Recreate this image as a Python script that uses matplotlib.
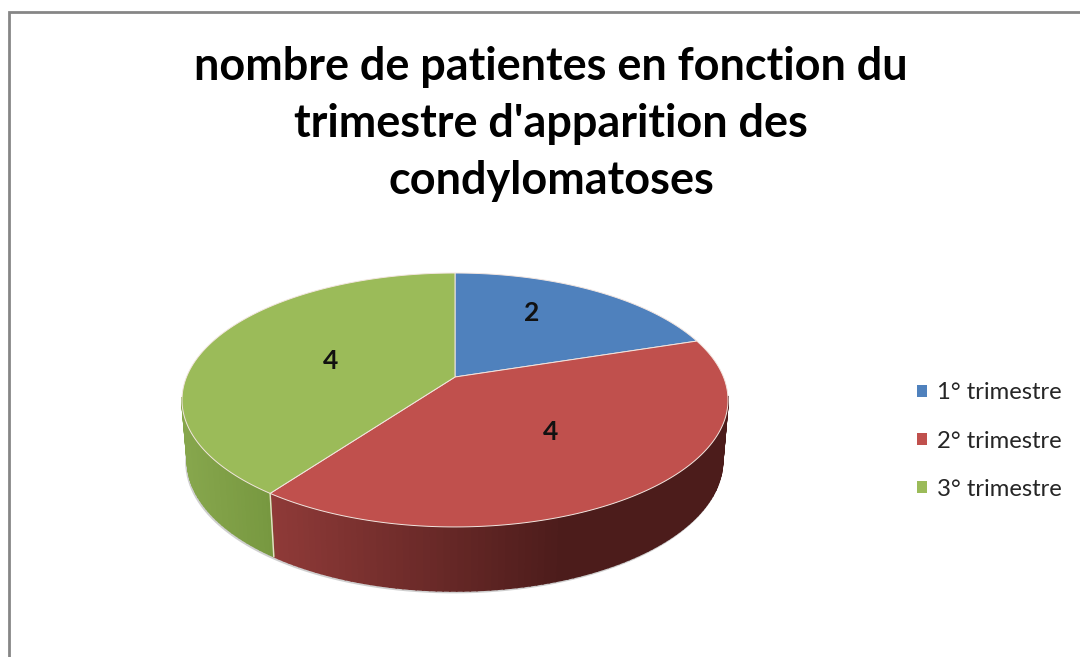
import numpy as np
import matplotlib
matplotlib.use('Agg')
import matplotlib.pyplot as plt
from matplotlib.patches import Patch

# donnees
categories = ['1° trimestre', '2° trimestre', '3° trimestre']
valeurs = [2, 4, 4]
titre = "nombre de patientes en fonction du\ntrimestre d'apparition des\ncondylomatoses"

couleurs = ['#4f81bd', '#c0504d', '#9bbb59']
cote_clair = ['#4f81bd', '#8f3a38', '#86a64c']
cote_sombre = ['#4f81bd', '#4c1c1b', '#76973f']
rayon_label = [0.6, 0.55, 0.5]
decalage_label = [(-10, -9), (1, -4), (0, 2)]

# perspective du disque, en pixels de l'image
CX, CY = 455, 377
A, B, K = 122.8, 268.5, 0.181


def projeter(x, y):
    d = 1 + K * y
    return CX + B * x / d, CY - A * y / d


def point_angle(theta, r=1.0):
    # theta en radians depuis le haut, sens horaire
    return projeter(r * np.sin(theta), r * np.cos(theta))


def bas(X, Y):
    # bord inferieur du cylindre
    rel = (Y - 400) / 127.0
    return CX + (X - CX) * 0.98, Y + 61 + 3 * rel


def melange(c1, c2, t):
    a = np.array(matplotlib.colors.to_rgb(c1))
    b = np.array(matplotlib.colors.to_rgb(c2))
    return tuple(a + (b - a) * t)


fig = plt.figure(figsize=(10.8, 6.57), dpi=100)
ax = fig.add_axes([0, 0, 1, 1])
ax.set_xlim(0, 1080)
ax.set_ylim(657, 0)
ax.axis('off')

# cadre
ax.plot([8.5, 8.5, 1080], [657, 12, 12], color='#868686', lw=2.0, solid_joinstyle='miter')

fractions = np.array(valeurs) / np.sum(valeurs)
bornes = np.concatenate([[0], np.cumsum(fractions)]) * 2 * np.pi

# ombre sous le cylindre
t = np.linspace(0, 2 * np.pi, 400)
Xb, Yb = bas(*point_angle(t))
ax.plot(Xb - 1, Yb + 1.2, color='#c4c4c4', lw=1.8, alpha=0.8, zorder=1)

# cote du cylindre
for i in range(len(valeurs)):
    t = np.linspace(bornes[i], bornes[i + 1], 120)
    X, Y = point_angle(t)
    Xd, Yd = bas(X, Y)
    for j in range(len(t) - 1):
        if Y[j] < 398 and Y[j + 1] < 398:
            continue
        m = (X[j] + X[j + 1]) / 2
        if i == 2:
            f = np.clip((m - 186) / 90, 0, 1)
        else:
            f = np.clip((m - 271) / 290, 0, 1)
        c = melange(cote_clair[i], cote_sombre[i], f)
        ax.fill([X[j], X[j + 1], Xd[j + 1], Xd[j]],
                [Y[j], Y[j + 1], Yd[j + 1], Yd[j]],
                color=c, lw=1.2, zorder=2)

# separation verte/rouge sur le cote
X0, Y0 = point_angle(bornes[2])
X1, Y1 = bas(X0, Y0)
ax.plot([X0, X1], [Y0, Y1], color='#e6e0c8', lw=1, zorder=3)

# dessus du disque
for i in range(len(valeurs)):
    t = np.linspace(bornes[i], bornes[i + 1], 200)
    X, Y = point_angle(t)
    ax.fill(np.r_[CX, X], np.r_[CY, Y], facecolor=couleurs[i],
            edgecolor='#f3e6e0', lw=0.7, zorder=4)
    mil = (bornes[i] + bornes[i + 1]) / 2
    lx, ly = point_angle(mil, rayon_label[i])
    ax.text(lx + decalage_label[i][0], ly + decalage_label[i][1], str(valeurs[i]),
            fontsize=19, family='Lato', fontweight='bold',
            color='#111111', ha='center', va='center', zorder=5)

ax.text(551, 124, titre, fontsize=32.4, family='Lato', fontweight='bold', color='black',
        ha='center', va='center', linespacing=1.45)

poignees = [Patch(facecolor=c, edgecolor='none') for c in couleurs]
ax.legend(poignees, categories, loc='center left', bbox_to_anchor=(917, 441),
          bbox_transform=ax.transData, frameon=False, prop={'family': 'Lato', 'size': 17.2},
          labelcolor='#262626', handlelength=0.42, handleheight=0.42, handletextpad=0.42,
          labelspacing=1.134, borderpad=0, borderaxespad=0)

fig.savefig('out.png', dpi=100)
